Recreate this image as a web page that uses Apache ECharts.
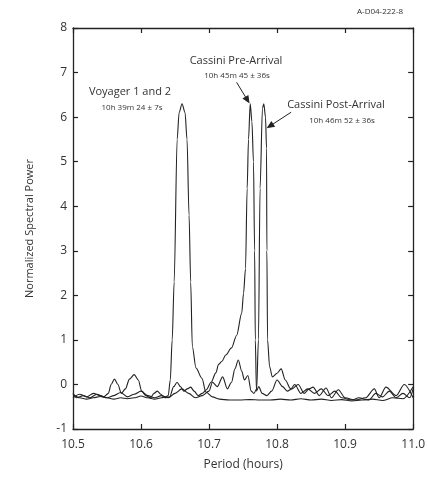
<!DOCTYPE html>
<html>
<head>
<meta charset="utf-8">
<script src="https://cdn.jsdelivr.net/npm/echarts@6/dist/echarts.min.js"></script>
<style>html,body{margin:0;padding:0;background:#fff}#c{width:428px;height:483px}</style>
</head>
<body>
<div id="c"></div>
<script>
// Period (hours) / normalized spectral power
var voyagerPeriod = [10.500,10.510,10.520,10.530,10.540,10.550,10.560,10.570,10.580,10.590,10.600,10.610,10.620,10.630,10.636,10.640,10.643,10.6458,10.6487,10.6531,10.656,10.6603,10.6647,10.6676,10.6706,10.673,10.6754,10.6808,10.6895,10.6953,10.705,10.715,10.730,10.745,10.760,10.775,10.790,10.805,10.820,10.835,10.850,10.865,10.880,10.895,10.910,10.925,10.940,10.955,10.970,10.985,11.000];
var voyagerPower  = [-0.22,-0.30,-0.33,-0.30,-0.27,-0.30,-0.33,-0.30,-0.32,-0.30,-0.26,-0.30,-0.33,-0.30,-0.28,-0.25,0.10,1.00,2.30,5.50,6.10,6.30,6.10,5.50,3.80,2.30,0.85,0.37,0.14,-0.17,-0.28,-0.33,-0.35,-0.35,-0.34,-0.35,-0.35,-0.33,-0.35,-0.32,-0.35,-0.33,-0.36,-0.34,-0.37,-0.35,-0.33,-0.36,-0.30,-0.32,-0.05];

var prePeriod = [10.500,10.505,10.515,10.525,10.535,10.545,10.552,10.556,10.561,10.566,10.571,10.577,10.583,10.590,10.596,10.601,10.607,10.614,10.619,10.624,10.629,10.635,10.642,10.648,10.653,10.658,10.663,10.668,10.673,10.678,10.684,10.690,10.696,10.703,10.710,10.714,10.719,10.7245,10.733,10.7405,10.748,10.7507,10.7536,10.756,10.758,10.7605,10.763,10.7653,10.767,10.768,10.7697,10.773,10.778,10.785,10.792,10.800,10.808,10.815,10.822,10.831,10.840,10.847,10.853,10.862,10.872,10.880,10.890,10.900,10.915,10.930,10.943,10.950,10.960,10.975,10.987,11.000];
var prePower  = [-0.20,-0.30,-0.25,-0.30,-0.22,-0.28,-0.20,0.00,0.12,0.00,-0.20,-0.10,0.12,0.22,0.10,-0.15,-0.25,-0.30,-0.20,-0.15,-0.22,-0.30,-0.28,-0.05,0.05,-0.05,-0.15,-0.10,-0.06,-0.15,-0.25,-0.20,-0.12,0.05,0.26,0.45,0.52,0.66,0.82,1.10,1.60,2.05,2.60,4.40,5.50,6.30,5.90,5.00,3.00,1.00,-0.15,-0.05,-0.20,-0.25,-0.15,0.10,-0.05,-0.15,-0.10,0.00,-0.20,-0.10,-0.06,-0.25,-0.08,-0.30,-0.12,-0.30,-0.35,-0.30,-0.10,-0.30,-0.06,-0.25,0.00,-0.30];

var postPeriod = [10.500,10.510,10.520,10.530,10.540,10.550,10.560,10.570,10.580,10.590,10.600,10.610,10.620,10.630,10.640,10.650,10.660,10.670,10.680,10.690,10.700,10.705,10.712,10.720,10.727,10.733,10.738,10.743,10.748,10.752,10.757,10.762,10.766,10.770,10.7726,10.775,10.7785,10.7805,10.783,10.7845,10.785,10.786,10.789,10.793,10.800,10.806,10.812,10.820,10.826,10.835,10.845,10.855,10.865,10.875,10.885,10.895,10.910,10.920,10.935,10.945,10.955,10.965,10.975,10.985,10.995,11.000];
var postPower  = [-0.30,-0.22,-0.28,-0.20,-0.25,-0.30,-0.25,-0.18,-0.28,-0.22,-0.15,-0.25,-0.30,-0.25,-0.30,-0.20,-0.10,-0.20,-0.30,-0.25,-0.15,0.05,-0.05,0.17,-0.10,0.05,0.35,0.55,0.30,0.10,0.20,-0.15,-0.20,-0.10,1.00,4.40,6.20,6.30,6.00,5.30,3.00,1.00,0.40,0.17,0.25,0.35,0.10,-0.10,0.00,-0.20,-0.10,-0.20,-0.10,-0.25,-0.15,-0.30,-0.35,-0.30,-0.35,-0.20,-0.28,-0.15,-0.30,-0.20,-0.30,-0.10];

var xTicks = [10.5, 11.0, 0.1];
var yTicks = [-1, 8, 1];

function pairs(xs, ys){ return xs.map(function(x,i){ return [x, ys[i]]; }); }

var chart = echarts.init(document.getElementById('c'));
var axisLine = {show:true, onZero:false, lineStyle:{color:'#222', width:1.3}};
var tick = {show:true, inside:true, length:5, lineStyle:{color:'#222', width:1.2}};
var lab = {color:'#333', fontFamily:'Open Sans', fontSize:12};
var lineStyle = {color:'#222', width:1.1};
chart.setOption({
  animation:false,
  grid:{left:73, right:12, top:28, bottom:54},
  xAxis:[
    {type:'value', min:xTicks[0], max:xTicks[1], interval:xTicks[2], position:'bottom',
     axisLine:axisLine, axisTick:tick, splitLine:{show:false},
     axisLabel:Object.assign({margin:10, formatter:function(v){return v.toFixed(1);}}, lab),
     name:'Period (hours)', nameLocation:'middle', nameGap:30,
     nameTextStyle:{color:'#333', fontFamily:'Open Sans', fontSize:12}},
    {type:'value', min:xTicks[0], max:xTicks[1], interval:xTicks[2], position:'top',
     axisLine:axisLine, axisTick:tick, axisLabel:{show:false}, splitLine:{show:false}}
  ],
  yAxis:[
    {type:'value', min:yTicks[0], max:yTicks[1], interval:yTicks[2], position:'left',
     axisLine:axisLine, axisTick:tick, splitLine:{show:false},
     axisLabel:Object.assign({margin:6}, lab),
     name:'Normalized Spectral Power', nameLocation:'middle', nameGap:38,
     nameTextStyle:{color:'#333', fontFamily:'Open Sans', fontSize:11}},
    {type:'value', min:yTicks[0], max:yTicks[1], interval:yTicks[2], position:'right',
     axisLine:axisLine, axisTick:tick, axisLabel:{show:false}, splitLine:{show:false}}
  ],
  series:[
    {name:'Voyager 1 and 2', type:'line', data:pairs(voyagerPeriod, voyagerPower), showSymbol:false, smooth:0.3, smoothMonotone:'x', lineStyle:lineStyle},
    {name:'Cassini Pre-Arrival', type:'line', data:pairs(prePeriod, prePower), showSymbol:false, smooth:0.3, smoothMonotone:'x', lineStyle:lineStyle,
     markLine:{silent:true, symbol:['none','triangle'], symbolSize:[7,8], label:{show:false},
       lineStyle:{color:'#222', width:1, type:'solid'},
       data:[[{coord:[10.7405,6.78]},{coord:[10.7565,6.38]}]]}},
    {name:'Cassini Post-Arrival', type:'line', data:pairs(postPeriod, postPower), showSymbol:false, smooth:0.3, smoothMonotone:'x', lineStyle:lineStyle,
     markLine:{silent:true, symbol:['none','triangle'], symbolSize:[7,8], label:{show:false},
       lineStyle:{color:'#222', width:1, type:'solid'},
       data:[[{coord:[10.8207,6.11]},{coord:[10.7895,5.80]}]]}}
  ],
  graphic:[
    {type:'text', left:357, top:8, style:{text:'A-D04-222-8', fill:'#333', font:'8px "Open Sans"'}},
    {type:'text', x:130, y:92, style:{text:'Voyager 1 and 2', fill:'#333', font:'11px "Open Sans"', textAlign:'center', textVerticalAlign:'middle'}},
    {type:'text', x:132, y:108, style:{text:'10h 39m 24 ± 7s', fill:'#333', font:'8px "Open Sans"', textAlign:'center', textVerticalAlign:'middle'}},
    {type:'text', x:236, y:61, style:{text:'Cassini Pre-Arrival', fill:'#333', font:'11px "Open Sans"', textAlign:'center', textVerticalAlign:'middle'}},
    {type:'text', x:237, y:76, style:{text:'10h 45m 45 ± 36s', fill:'#333', font:'8px "Open Sans"', textAlign:'center', textVerticalAlign:'middle'}},
    {type:'text', x:336, y:105, style:{text:'Cassini Post-Arrival', fill:'#333', font:'11px "Open Sans"', textAlign:'center', textVerticalAlign:'middle'}},
    {type:'text', x:342, y:121, style:{text:'10h 46m 52 ± 36s', fill:'#333', font:'8px "Open Sans"', textAlign:'center', textVerticalAlign:'middle'}}
  ]
});
</script>
</body>
</html>
